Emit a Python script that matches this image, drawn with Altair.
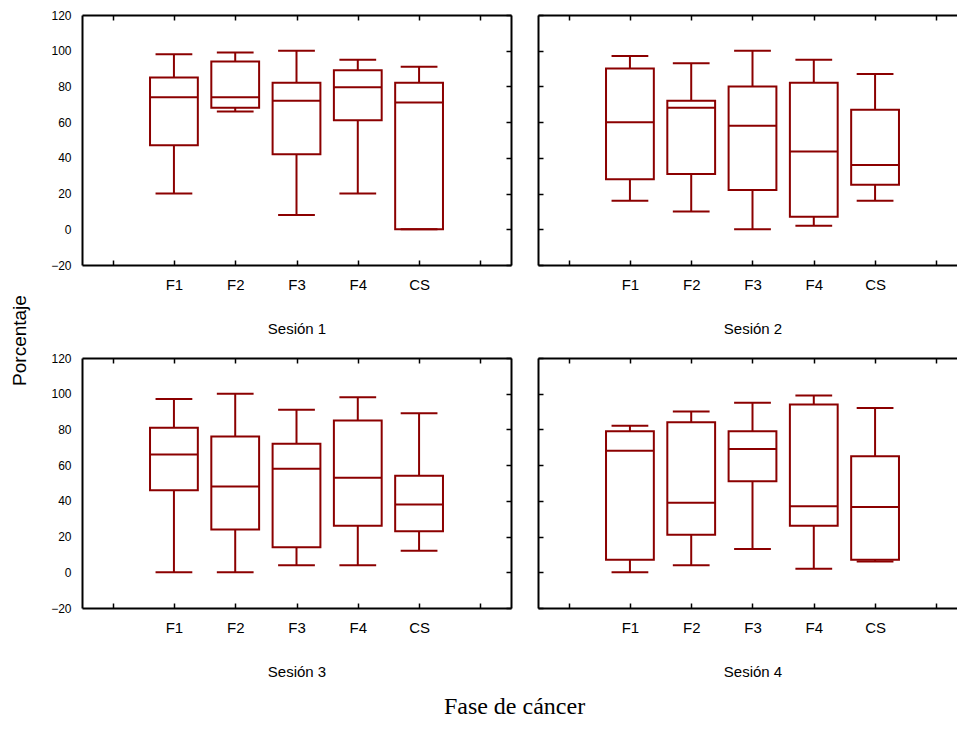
import json
import altair as alt
import pandas as pd

# ---------------- data ----------------
categories = ["F1", "F2", "F3", "F4", "CS"]
y_ticks = [-20, 0, 20, 40, 60, 80, 100, 120]

s1_min = [20, 66, 8, 20, 0]
s1_q1 = [47, 68, 42, 61, 0]
s1_med = [74, 74, 72, 79.5, 71]
s1_q3 = [85, 94, 82, 89, 82]
s1_max = [98, 99, 100, 95, 91]

s2_min = [16, 10, 0, 2, 16]
s2_q1 = [28, 31, 22, 7, 25]
s2_med = [60, 68, 58, 43.5, 36]
s2_q3 = [90, 72, 80, 82, 67]
s2_max = [97, 93, 100, 95, 87]

s3_min = [0, 0, 4, 4, 12]
s3_q1 = [46, 24, 14, 26, 23]
s3_med = [66, 48, 58, 53, 38]
s3_q3 = [81, 76, 72, 85, 54]
s3_max = [97, 100, 91, 98, 89]

s4_min = [0, 4, 13, 2, 6]
s4_q1 = [7, 21, 51, 26, 7]
s4_med = [68, 39, 69, 37, 36.5]
s4_q3 = [79, 84, 79, 94, 65]
s4_max = [82, 90, 95, 99, 92]

session_titles = ["Sesión 1", "Sesión 2", "Sesión 3", "Sesión 4"]

# ---------------- layout constants ----------------
RED = "#8B0000"
FONT = "Liberation Sans"
SERIF = "Liberation Serif"
H = 250
W_LEFT = 429
W_RIGHT = 419
UNIT = W_LEFT / 7.0
SLOTS = list(range(7))
BOX_HALF = 0.39
CAP_HALF = 0.30

cats_js = json.dumps(categories)


def make_panel(mins, q1s, meds, q3s, maxs, sess_title, left_col, y_title=None, bottom_title=None):
    width = W_LEFT if left_col else W_RIGHT
    xdom = [-0.5, -0.5 + width / UNIT]
    xs = alt.Scale(domain=xdom, nice=False, zero=False)
    ys = alt.Scale(domain=[-20, 120], nice=False, zero=False)

    df = pd.DataFrame({
        "cat": categories,
        "pos": [i + 1 for i in range(len(categories))],
        "min": mins, "q1": q1s, "med": meds, "q3": q3s, "max": maxs,
    })

    label_axis = alt.Axis(
        orient="bottom", values=[1, 2, 3, 4, 5],
        labelExpr=f"{cats_js}[datum.value - 1]",
        domain=False, ticks=False, tickSize=0, labelPadding=12,
        labelFontSize=15, labelFont=FONT, labelColor="black",
        title=sess_title, titleX=UNIT * 3.5, titleY=68,
        titleBaseline="alphabetic", titleAlign="center",
        titleFontSize=15, titleFont=FONT, titleFontWeight="normal", titleColor="black",
        grid=False,
    )
    top_border = alt.Axis(
        orient="bottom", offset=-H, values=SLOTS, labels=False,
        ticks=True, tickSize=5, tickWidth=1.5, tickColor="black",
        domain=True, domainWidth=2, domainColor="black", title=None, grid=False,
    )
    bb_kwargs = dict(
        orient="top", offset=-H, values=SLOTS, labels=False,
        ticks=True, tickSize=5, tickWidth=1.5, tickColor="black",
        domain=True, domainWidth=2, domainColor="black", grid=False,
    )
    if bottom_title:
        bottom_border = alt.Axis(
            title=bottom_title, titleX=432, titleY=105, titleBaseline="alphabetic",
            titleAlign="center", titleFont=SERIF, titleFontSize=24,
            titleFontWeight="normal", titleColor="black", **bb_kwargs)
    else:
        bottom_border = alt.Axis(title=None, **bb_kwargs)

    if left_col:
        yk = dict(
            orient="left", values=y_ticks, domain=True, domainWidth=2, domainColor="black",
            ticks=False, tickSize=0, labelPadding=11, labelFontSize=12, labelFont=FONT,
            labelColor="black", grid=False,
        )
        if y_title:
            y_main = alt.Axis(
                title=y_title, titleX=-57, titleY=325, titleAngle=270, titleAlign="center",
                titleBaseline="alphabetic", titleFontSize=19, titleFont=FONT,
                titleFontWeight="normal", titleColor="black", **yk)
        else:
            y_main = alt.Axis(title=None, **yk)
        y_second = alt.Axis(
            orient="left", offset=-width, values=y_ticks, labels=False,
            ticks=True, tickSize=5, tickWidth=1.5, tickColor="black",
            domain=True, domainWidth=2, domainColor="black", title=None, grid=False,
        )
    else:
        y_main = alt.Axis(
            orient="right", offset=-width, values=y_ticks, labels=False,
            ticks=True, tickSize=5, tickWidth=1.5, tickColor="black",
            domain=True, domainWidth=2, domainColor="black", title=None, grid=False,
        )
        y_second = None

    base = alt.Chart(df).transform_calculate(
        bx1=f"datum.pos - {BOX_HALF}", bx2=f"datum.pos + {BOX_HALF}",
        cx1=f"datum.pos - {CAP_HALF}", cx2=f"datum.pos + {CAP_HALF}",
    )

    whisker = base.mark_rule(color=RED, strokeWidth=2).encode(
        x=alt.X("pos:Q", scale=xs, axis=label_axis),
        y=alt.Y("min:Q", scale=ys, axis=y_main),
        y2="max:Q",
    )
    if y_second is not None:
        box_y = alt.Y("q1:Q", scale=ys, axis=y_second)
    else:
        box_y = alt.Y("q1:Q", scale=ys, axis=None)
    box = base.mark_rect(fill="white", stroke=RED, strokeWidth=2).encode(
        x=alt.X("bx1:Q", scale=xs, axis=top_border),
        x2="bx2:Q",
        y=box_y,
        y2="q3:Q",
    )
    median = base.mark_rule(color=RED, strokeWidth=2).encode(
        x=alt.X("bx1:Q", scale=xs, axis=bottom_border),
        x2="bx2:Q",
        y=alt.Y("med:Q", scale=ys, axis=None),
    )
    cap_lo = base.mark_rule(color=RED, strokeWidth=2).encode(
        x=alt.X("cx1:Q", scale=xs, axis=None),
        x2="cx2:Q",
        y=alt.Y("min:Q", scale=ys, axis=None),
    )
    cap_hi = base.mark_rule(color=RED, strokeWidth=2).encode(
        x=alt.X("cx1:Q", scale=xs, axis=None),
        x2="cx2:Q",
        y=alt.Y("max:Q", scale=ys, axis=None),
    )
    return alt.layer(whisker, box, median, cap_lo, cap_hi).properties(
        width=width, height=H
    ).resolve_axis(x="independent", y="independent")


p1 = make_panel(s1_min, s1_q1, s1_med, s1_q3, s1_max, session_titles[0], True, y_title="Porcentaje")
p2 = make_panel(s2_min, s2_q1, s2_med, s2_q3, s2_max, session_titles[1], False)
p3 = make_panel(s3_min, s3_q1, s3_med, s3_q3, s3_max, session_titles[2], True, bottom_title="Fase de cáncer")
p4 = make_panel(s4_min, s4_q1, s4_med, s4_q3, s4_max, session_titles[3], False)

chart = alt.concat(
    p1, p2, p3, p4, columns=2, spacing={"row": 93, "column": 27}, bounds="flush"
).properties(
    padding={"left": 10, "top": 9, "right": 0, "bottom": 5}
).configure_view(strokeWidth=0).configure_axis(grid=False)

chart.save("out.html", embed_options={"renderer": "svg", "actions": False})
